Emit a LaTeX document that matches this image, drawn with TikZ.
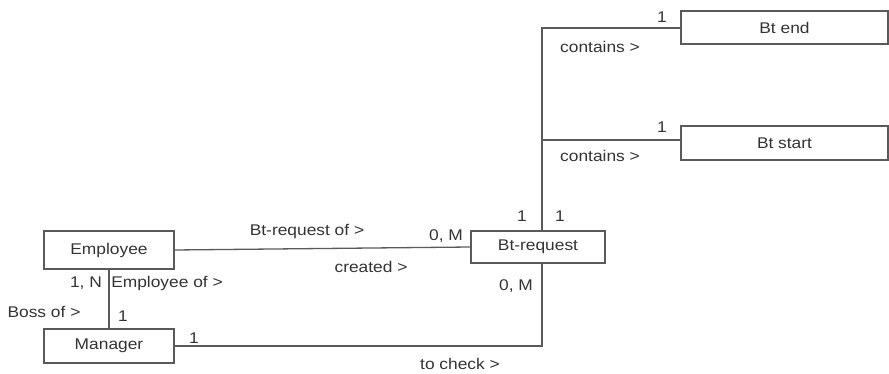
\documentclass[tikz,border=0pt]{standalone}
\usepackage{fontspec}
\setmainfont{Liberation Sans}
\definecolor{ln}{HTML}{5A5A5A}
\definecolor{tx}{HTML}{333333}
\newcommand{\lbl}[1]{\scalebox{1.12}[1]{#1}}
\begin{document}
\begin{tikzpicture}[x=1pt,y=-1pt,
  ent/.style={draw=ln,line width=1.3pt,rectangle,inner sep=0pt,font=\fontsize{15.5}{18}\selectfont,text=tx},
  lab/.style={inner sep=0pt,font=\fontsize{15.5}{18}\selectfont,text=tx},
  conn/.style={draw=ln,line width=1.3pt}]
\useasboundingbox (0,0) rectangle (889,374);
\node[ent,minimum width=130pt,minimum height=38pt] (emp) at (109,250) {\lbl{Employee}};
\node[ent,minimum width=130pt,minimum height=34pt] (mgr) at (109,346) {\lbl{Manager}};
\node[ent,minimum width=134pt,minimum height=32pt] (btr) at (538,247) {\lbl{Bt-request}};
\node[ent,minimum width=207pt,minimum height=33pt] (bte) at (784.5,27.5) {\lbl{Bt end}};
\node[ent,minimum width=207pt,minimum height=34pt] (bts) at (784.5,143) {\lbl{Bt start}};
\coordinate (j1) at (542,28);
\coordinate (j2) at (542,140);
\coordinate (j3) at (542,346);
\draw[conn] (emp.east) -- (btr.west);
\draw[conn] (emp.south) -- (mgr.north);
\draw[conn] (mgr.east) -- (j3) -- (btr.south -| j3);
\draw[conn] (btr.north -| j1) -- (j1) -- (j1 -| bte.west);
\draw[conn] (j2) -- (j2 -| bts.west);
\node[lab] (l1) at (307,232) {\lbl{Bt-request of >}};
\node[lab] (l2) at (446,236) {\lbl{0, M}};
\node[lab] (l3) at (371,267) {\lbl{created >}};
\node[lab] (l4) at (86,283) {\lbl{1, N}};
\node[lab] (l5) at (167,283) {\lbl{Employee of >}};
\node[lab] (l6) at (44,312) {\lbl{Boss of >}};
\node[lab] (l7) at (123,316) {\lbl{1}};
\node[lab] (l8) at (194,338) {\lbl{1}};
\node[lab] (l9) at (460,364) {\lbl{to check >}};
\node[lab] (l10) at (516,286) {\lbl{0, M}};
\node[lab] (l11) at (522,216) {\lbl{1}};
\node[lab] (l12) at (560,216) {\lbl{1}};
\node[lab] (l13) at (600,47) {\lbl{contains >}};
\node[lab] (l14) at (600,156) {\lbl{contains >}};
\node[lab] (l15) at (662,17) {\lbl{1}};
\node[lab] (l16) at (662,127) {\lbl{1}};
\end{tikzpicture}
\end{document}
